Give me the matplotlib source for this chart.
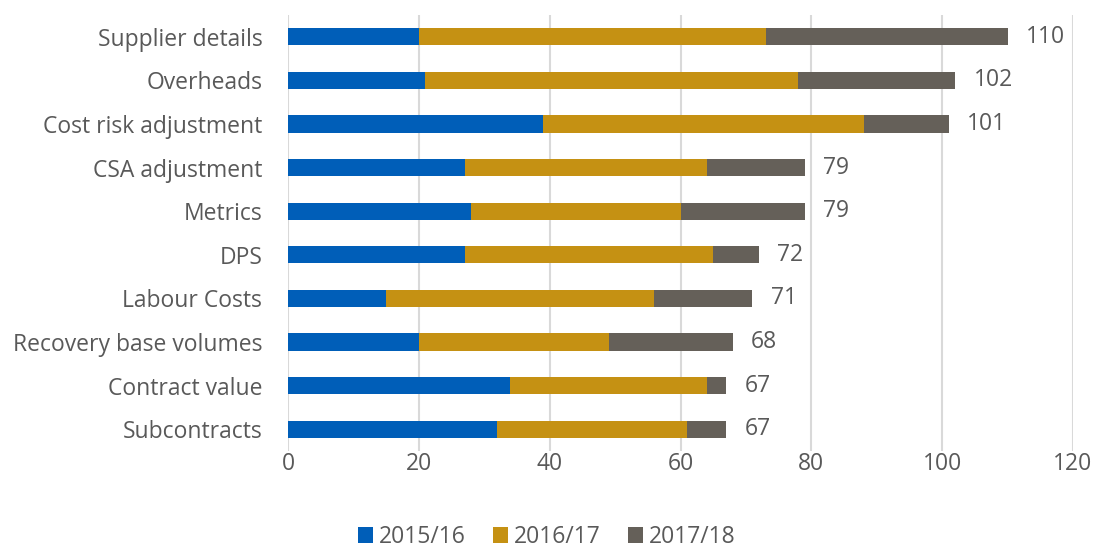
import matplotlib.pyplot as plt
import numpy as np

categories = ['Supplier details', 'Overheads', 'Cost risk adjustment', 'CSA adjustment',
              'Metrics', 'DPS', 'Labour Costs', 'Recovery base volumes',
              'Contract value', 'Subcontracts']
y2015 = [20, 21, 39, 27, 28, 27, 15, 20, 34, 32]
y2016 = [53, 57, 49, 37, 32, 38, 41, 29, 30, 29]
y2017 = [37, 24, 13, 15, 19, 7, 15, 19, 3, 6]
series_names = ['2015/16', '2016/17', '2017/18']
colors = ['#005EB8', '#C59113', '#656059']
text_color = '#595959'

plt.rcParams['font.family'] = ['Open Sans', 'DejaVu Sans']

fig = plt.figure(figsize=(10.93, 5.52), dpi=100)
ax = fig.add_axes([288 / 1093, 1 - 451 / 552, 785 / 1093, 436 / 552])

pos = np.arange(len(categories))
left = np.zeros(len(categories))
for vals, name, c in zip([y2015, y2016, y2017], series_names, colors):
    ax.barh(pos, vals, left=left, height=0.39, color=c, label=name, zorder=3)
    left = left + np.array(vals)

# totals at the end of each stacked bar
for p, total in zip(pos, left):
    ax.text(total + 2.8, p, '%d' % total, va='center', ha='left',
            fontsize=16.5, color=text_color)

ax.set_xlim(0, 120)
ax.set_ylim(len(categories) - 0.5, -0.5)
ax.set_xticks(range(0, 121, 20))
ax.set_yticks(pos)
ax.set_yticklabels(categories)
ax.grid(axis='x', color='#D9D9D9', linewidth=1.5, zorder=0)
for s in ax.spines.values():
    s.set_visible(False)
ax.tick_params(length=0, labelsize=16.5, labelcolor=text_color)
ax.tick_params(axis='y', pad=18.5)
ax.tick_params(axis='x', pad=1)

leg = fig.legend(loc='center', ncol=3, frameon=False, fontsize=16.5,
                 bbox_to_anchor=(0.5, 1 - 537 / 552), handlelength=0.65, handleheight=0.65,
                 handletextpad=0.25, columnspacing=1.2, labelcolor=text_color,
                 borderpad=0.1)

fig.savefig('out.png', dpi=100)
